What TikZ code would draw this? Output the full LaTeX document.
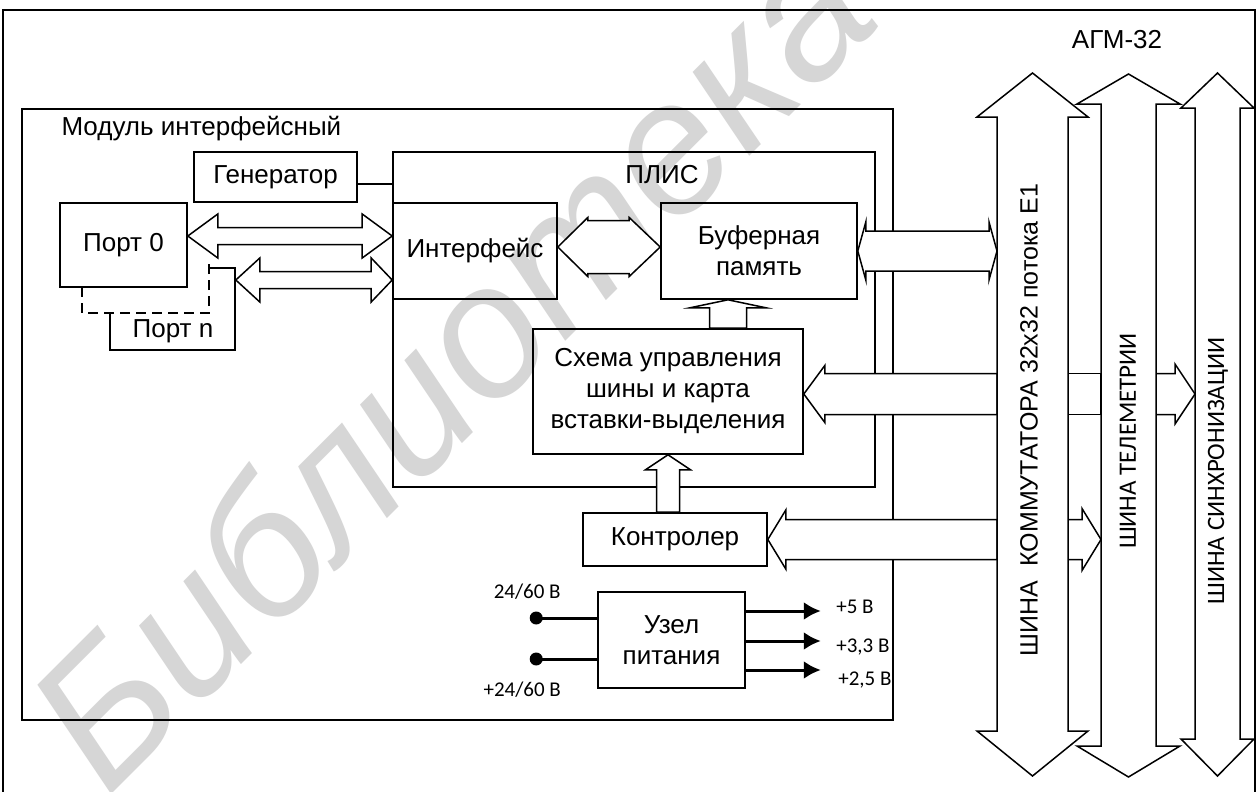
\documentclass[tikz,border=0pt]{standalone}
\usepackage{fontspec}
\setmainfont{Liberation Sans}
\newfontfamily\calib{Carlito}
\usetikzlibrary{calc,arrows.meta}
\newcommand\fsz[2]{\fontsize{#1}{#2}\selectfont}
% horizontal double-headed hollow arrow: left tip #1, right tip #2 (x), left head len #3, right head len #4, head half #5, shaft half #6
\newcommand\harrowLR[6]{\draw[arr] let \p1=(#1), \p2=(#2) in
 (\x1,\y1) -- (\x1+#3pt,\y1+#5pt) -- (\x1+#3pt,\y1+#6pt) -- (\x2-#4pt,\y1+#6pt) -- (\x2-#4pt,\y1+#5pt) -- (\x2,\y1)
 -- (\x2-#4pt,\y1-#5pt) -- (\x2-#4pt,\y1-#6pt) -- (\x1+#3pt,\y1-#6pt) -- (\x1+#3pt,\y1-#5pt) -- cycle;}
% head on the left, flat right end
\newcommand\harrowL[5]{\draw[arr] let \p1=(#1), \p2=(#2) in
 (\x1,\y1) -- (\x1+#3pt,\y1+#4pt) -- (\x1+#3pt,\y1+#5pt) -- (\x2,\y1+#5pt) -- (\x2,\y1-#5pt)
 -- (\x1+#3pt,\y1-#5pt) -- (\x1+#3pt,\y1-#4pt) -- cycle;}
% flat left end, head on the right
\newcommand\harrowR[5]{\draw[arr] let \p1=(#1), \p2=(#2) in
 (\x1,\y1+#5pt) -- (\x2-#3pt,\y1+#5pt) -- (\x2-#3pt,\y1+#4pt) -- (\x2,\y1) -- (\x2-#3pt,\y1-#4pt)
 -- (\x2-#3pt,\y1-#5pt) -- (\x1,\y1-#5pt) -- cycle;}
\newcommand\hband[3]{\draw[arr] let \p1=(#1), \p2=(#2) in (\x1,\y1+#3pt) rectangle (\x2,\y1-#3pt);}
% upward hollow arrow: tip #1, base #2 (y), head len #3, head half #4, shaft half #5
\newcommand\varrowU[5]{\draw[arr] let \p1=(#1), \p2=(#2) in
 (\x1,\y1) -- (\x1+#4pt,\y1-#3pt) -- (\x1+#5pt,\y1-#3pt) -- (\x1+#5pt,\y2) -- (\x1-#5pt,\y2)
 -- (\x1-#5pt,\y1-#3pt) -- (\x1-#4pt,\y1-#3pt) -- cycle;}
% vertical bus double arrow around node #1
\newcommand\busshape[5]{\draw[arr] let \p1=(#1.north west), \p2=(#1.south east) in
 (\x1,\y1) -- (\x1-#2pt,\y1) -- ({(\x1+\x2)/2},\y1+#4pt) -- (\x2+#3pt,\y1) -- (\x2,\y1) -- (\x2,\y2)
 -- (\x2+#3pt,\y2) -- ({(\x1+\x2)/2},\y2-#5pt) -- (\x1-#2pt,\y2) -- (\x1,\y2) -- cycle;}
\begin{document}
\begin{tikzpicture}[x=1pt,y=-1pt,
  box/.style={draw, line width=1.6pt, inner sep=0pt, align=center, font=\fsz{26}{31}},
  arr/.style={draw, fill=white, line width=1.5pt, line join=miter},
  busnode/.style={inner sep=0pt, outer sep=0pt},
  bustext/.style={rotate=90, font=\fsz{25}{30}},
  volt/.style={font=\calib\fsz{21}{25}},
  thickline/.style={line width=3pt}]
\useasboundingbox (0,0) rectangle (1258,792);
\fill[white] (0,0) rectangle (1258,792);
% watermark
\node[rotate=45, text=black!16, font=\fsz{188}{210}\itshape] (wm) at (448,362) {Библиотека};
% outer frame
\draw[line width=1.2pt] (3,810) -- (3,10) -- (1255,10) -- (1255,810);
\node[anchor=center, font=\fsz{26}{31}] (agm) at (1117,40) {АГМ-32};
% module
\node[box, minimum width=871pt, minimum height=611pt] (module) at (457.5,414.5) {};
\node[anchor=west, font=\fsz{26}{31}] (modlabel) at (58,129) {Модуль интерфейсный};
% PLIS
\node[box, minimum width=482pt, minimum height=335pt] (plis) at (634,319.5) {};
\node[font=\fsz{26}{31}] (plislabel) at (662,175) {ПЛИС};
\node[box, minimum width=163pt, minimum height=50pt] (gen) at (275.5,177) {Генератор};
\coordinate (g1) at ($(gen.east)+(0,7)$);
\draw[line width=1.6pt] (g1) -- (g1 -| plis.west);
\node[box, minimum width=164pt, minimum height=96pt] (iface) at (475,251) {Интерфейс};
\node[box, minimum width=196pt, minimum height=96pt] (buf) at (759,251) {Буферная\\память};
\node[box, minimum width=270pt, minimum height=125pt] (schema) at (668,391.5) {Схема управления\\шины и карта\\вставки-выделения};
\node[box, minimum width=184pt, minimum height=53pt] (ctrl) at (675,539.5) {Контролер};
\node[box, minimum width=147pt, minimum height=96pt] (psu) at (671.5,640) {Узел\\питания};
% ports
\node[box, fill=white, minimum width=125pt, minimum height=82pt] (portn) at (172.5,309) {};
\node[font=\fsz{26}{31}] (portnlabel) at (173,331) {Порт n};
\fill[white] (82,261) rectangle (209,313);
\draw[line width=1.5pt, dash pattern=on 10pt off 6pt] (82,287) -- (82,313) -- (209,313) -- (209,261);
\node[box, fill=white, minimum width=127pt, minimum height=84pt] (port0) at (123.5,245) {Порт 0};
% buses (nodes = shaft areas)
\node[busnode, minimum width=71pt, minimum height=614pt] (busA) at (1032.5,424) {};
\node[busnode, minimum width=55pt, minimum height=642pt] (busT) at (1128.5,425) {};
\node[busnode, minimum width=45pt, minimum height=631pt] (busS) at (1217.5,423.5) {};
% arrows inside module
\coordinate (pa1) at ($(port0.east)+(0,-9)$);
\harrowLR{pa1}{iface.west}{30}{30}{22}{8.5}
\coordinate (pa2) at ($(portn.east)+(0,-29)$);
\harrowLR{pa2}{iface.west}{24}{21}{22}{8.5}
\coordinate (ib) at ($(iface.east)+(0,-4)$);
\harrowLR{ib}{buf.west}{30}{31}{29.5}{26.5}
\coordinate (sb) at ($(buf.south)+(-31,0)$);
\varrowU{sb}{schema.north}{8}{38}{18.5}
\varrowU{schema.south}{ctrl.north}{15}{22.5}{11.5}
% arrows to the buses
\harrowLR{buf.east}{busA.west}{8}{8}{29}{20}
\coordinate (sy) at ($(schema.east)+(0,2.5)$);
\harrowL{sy}{busA.west}{21}{28.5}{20.5}
\coordinate (s1) at (sy -| busA.east);
\hband{s1}{busT.west}{20.5}
\coordinate (s2) at (sy -| busT.east);
\harrowR{s2}{busS.west}{20}{30}{20.5}
\harrowL{ctrl.east}{busA.west}{18}{29.5}{20}
\coordinate (c1) at (ctrl.east -| busA.east);
\harrowR{c1}{busT.west}{19}{31}{20}
% buses
\busshape{busT}{24}{24}{30}{31}
\busshape{busA}{20}{20}{44}{45}
\busshape{busS}{14}{14}{35}{37}
\node[bustext] (tA) at (1029,420) {ШИНА\ \ КОММУТАТОРА 32х32 потока Е1};
\node[bustext, font=\calib\fsz{25}{30}] (tT) at (1128,441) {ШИНА ТЕЛЕМЕТРИИ};
\node[bustext, font=\calib\fsz{25}{30}] (tS) at (1218,471) {ШИНА СИНХРОНИЗАЦИИ};
% power unit
\coordinate (in1) at ($(psu.west)+(-61,-22)$);
\coordinate (in2) at ($(psu.west)+(-61,19)$);
\draw[thickline] (in1) -- (in1 -| psu.west);
\draw[thickline] (in2) -- (in2 -| psu.west);
\fill (in1) circle (6.5pt);
\fill (in2) circle (6.5pt);
\node[volt] (v1) at ($(in1)+(-9,-26)$) {24/60 В};
\node[volt] (v2) at ($(in2)+(-14,31)$) {+24/60 В};
\coordinate (o1) at ($(psu.east)+(75,-29)$);
\coordinate (o2) at ($(psu.east)+(75,1)$);
\coordinate (o3) at ($(psu.east)+(75,30)$);
\foreach \o in {o1,o2,o3}
  \draw[thickline, -{Latex[length=17pt,width=18pt]}] (\o -| psu.east) -- (\o);
\node[volt, anchor=west] (l1) at ($(o1)+(12,-4)$) {+5 В};
\node[volt, anchor=west] (l2) at ($(o2)+(12,6)$) {+3,3 В};
\node[volt, anchor=west] (l3) at ($(o3)+(14,10)$) {+2,5 В};
\end{tikzpicture}
\end{document}
